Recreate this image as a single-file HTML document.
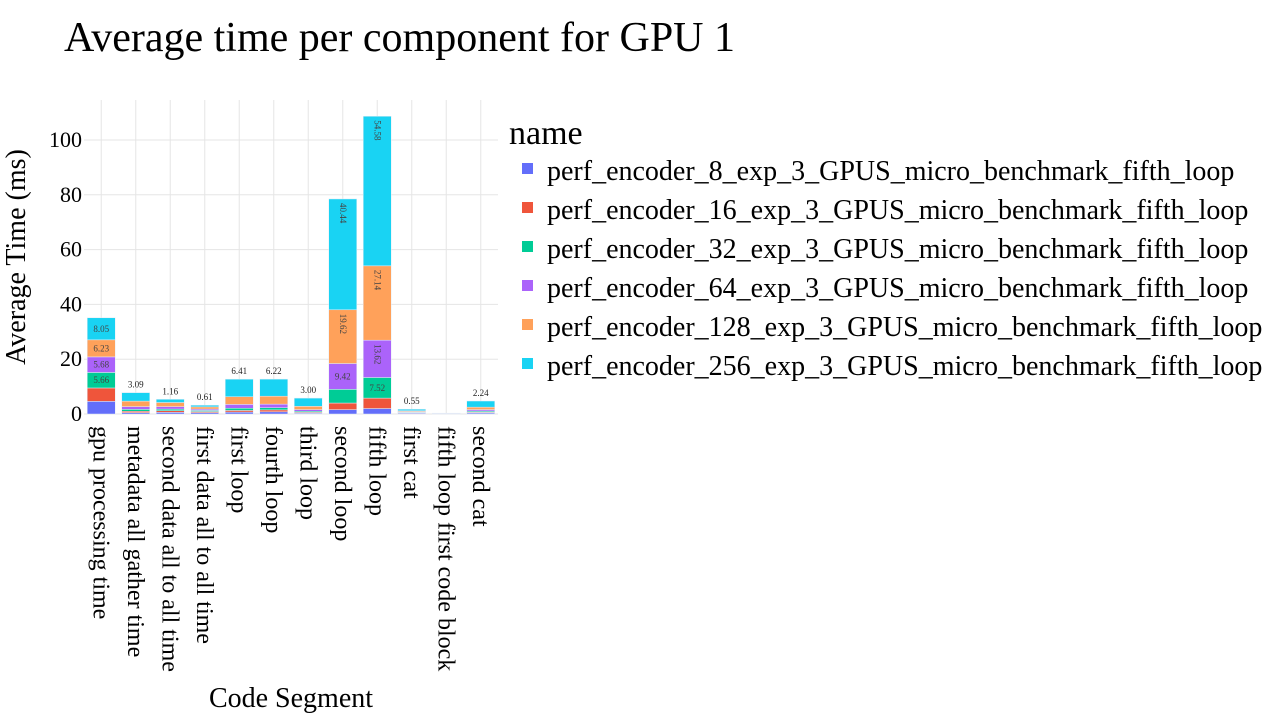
<!DOCTYPE html>
<html><head><meta charset="utf-8"><style>
body{margin:0;background:#fff;width:1280px;height:720px;overflow:hidden;font-family:"Liberation Serif",serif}
</style></head><body>
<svg id="c" width="1280" height="720" xmlns="http://www.w3.org/2000/svg" font-family="Liberation Serif, serif">
<text x="64" y="51" font-size="42" fill="#000">Average time per component for GPU 1</text>
<g id="grid"></g><g id="bars"></g><g id="axes"></g><g id="legend"></g>
</svg>
<script>
const categories=["gpu processing time","metadata all gather time","second data all to all time","first data all to all time","first loop","fourth loop","third loop","second loop","fifth loop","first cat","fifth loop first code block","second cat"];
const seriesNames=["perf_encoder_8_exp_3_GPUS_micro_benchmark_fifth_loop","perf_encoder_16_exp_3_GPUS_micro_benchmark_fifth_loop","perf_encoder_32_exp_3_GPUS_micro_benchmark_fifth_loop","perf_encoder_64_exp_3_GPUS_micro_benchmark_fifth_loop","perf_encoder_128_exp_3_GPUS_micro_benchmark_fifth_loop","perf_encoder_256_exp_3_GPUS_micro_benchmark_fifth_loop"];
const colors=["#636efa","#ef553b","#00cc96","#ab63fa","#ffa15a","#19d3f3"];
const s8=[4.6,0.5,0.6,0.5,0.7,0.8,0.3,1.6,2.0,0.3,0.05,0.4];
const s16=[4.9,0.5,0.6,0.4,0.6,0.7,0.3,2.4,3.8,0.2,0.05,0.3];
const s32=[5.66,0.7,0.6,0.4,0.8,0.8,0.4,5.0,7.52,0.2,0.05,0.4];
const s64=[5.68,1.0,0.9,0.5,1.4,1.3,0.6,9.42,13.62,0.2,0.05,0.5];
const s128=[6.23,2.0,1.5,0.8,2.8,2.9,1.2,19.62,27.14,0.3,0.05,0.9];
const s256=[8.05,3.09,1.16,0.61,6.41,6.22,3.00,40.44,54.58,0.55,0.05,2.24];
const series=[s8,s16,s32,s64,s128,s256];
const yTicks=[0,20,40,60,80,100];
const NS="http://www.w3.org/2000/svg";
const L=84,R=498,T=100,B=414;
const y=v=>B-v*2.74;
const band=(R-L)/categories.length;
const xc=i=>L+band*(i+0.5);
function mk(p,tag,a){const e=document.createElementNS(NS,tag);for(const k in a)e.setAttribute(k,a[k]);p.appendChild(e);return e;}
const grid=document.getElementById('grid'),bars=document.getElementById('bars'),axes=document.getElementById('axes'),leg=document.getElementById('legend');
yTicks.forEach(t=>{
 const l=mk(grid,'line',{x1:L,x2:R,y1:y(t),y2:y(t),stroke:'#e5e5e5','stroke-width':1});
 
 
 const tx=mk(axes,'text',{x:L-2,y:y(t)+7,'font-size':22,'text-anchor':'end',fill:'#000'});
 tx.textContent=t;
 
 
});
categories.forEach((c,i)=>{
 const l=mk(grid,'line',{x1:xc(i),x2:xc(i),y1:T,y2:B,stroke:'#e5e5e5','stroke-width':1});
 
 
 const tx=mk(axes,'text',{transform:`translate(${xc(i)-8},426) rotate(90)`,'font-size':24,fill:'#000'});
 tx.textContent=c;
 
 
});
const bw=28;
categories.forEach((c,i)=>{
 let base=0;
 series.forEach((s,k)=>{
  const v=s[i],y0=y(base),y1=y(base+v);
  const r=mk(bars,'rect',{x:xc(i)-bw/2,y:y1,width:bw,height:Math.max(0,y0-y1),fill:colors[k],stroke:'#e5ecf6','stroke-width':0.5});
  
  
  let txt=null;
  if(k==5){
   if(v>=7.5&&v<13) txt=mk(bars,'text',{x:xc(i),y:(y0+y1)/2+3,'font-size':9,'text-anchor':'middle',fill:'#444'});
   else if(v>=13) txt=mk(bars,'text',{transform:`translate(${xc(i)-3},${y1+4}) rotate(90)`,'font-size':9,fill:'#444'});
   else if(v>0.1) txt=mk(bars,'text',{x:xc(i),y:y1-5,'font-size':9,'text-anchor':'middle',fill:'#222'});
  } else if(v>=5.5){
   if(v>=13) txt=mk(bars,'text',{transform:`translate(${xc(i)-3},${y1+4}) rotate(90)`,'font-size':9,fill:'#444'});
   else txt=mk(bars,'text',{x:xc(i),y:(y0+y1)/2+3,'font-size':9,'text-anchor':'middle',fill:'#444'});
  }
  if(txt){txt.textContent=v.toFixed(2);
   
   }
  base+=v;
 });
});
const yt=mk(axes,'text',{transform:'translate(25,257) rotate(-90)','font-size':28,'text-anchor':'middle',fill:'#000'});
yt.textContent='Average Time (ms)';


const xt=mk(axes,'text',{x:291,y:707,'font-size':28,'text-anchor':'middle',fill:'#000'});
xt.textContent='Code Segment';


const lt=mk(leg,'text',{x:509,y:144,'font-size':34,fill:'#000'});
lt.textContent='name';


seriesNames.forEach((n,k)=>{
 const g=mk(leg,'g',{});
 
 
 mk(g,'rect',{x:522,y:163+k*39,width:11,height:11,fill:colors[k]});
 const t=mk(g,'text',{x:547,y:180+k*39,'font-size':28,fill:'#000'});
 t.textContent=n;
});
</script>
</body></html>
